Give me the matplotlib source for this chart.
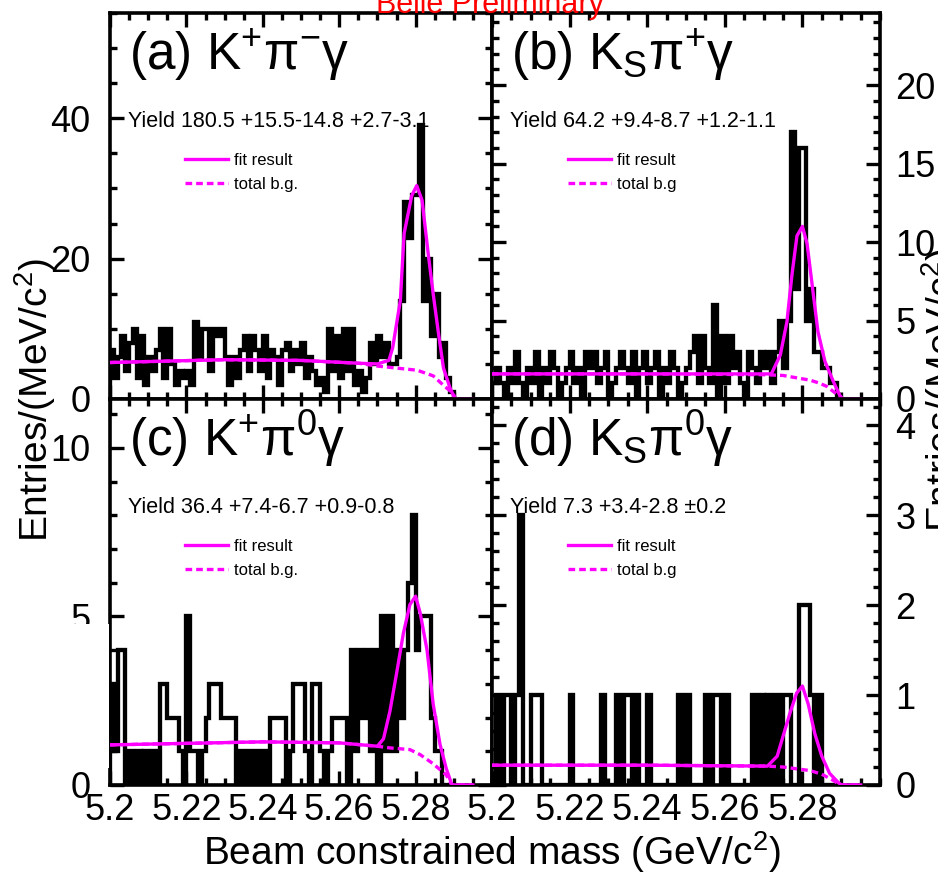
import numpy as np
import matplotlib
matplotlib.use("Agg")
import matplotlib.pyplot as plt
from matplotlib.ticker import MultipleLocator, FixedLocator
from matplotlib.patches import Rectangle

plt.rcParams['font.family'] = ['Liberation Sans', 'DejaVu Sans']
plt.rcParams['mathtext.fontset'] = 'custom'
plt.rcParams['mathtext.rm'] = 'Liberation Sans'
plt.rcParams['mathtext.it'] = 'Liberation Sans:italic'
plt.rcParams['mathtext.bf'] = 'Liberation Sans:bold'

# ---------------------------------------------------------------- data
# Mbc histograms, 1 MeV/c^2 bins from 5.200 to 5.290 GeV/c^2
mbc_edges = np.round(np.linspace(5.200, 5.290, 91), 4)

counts_kpi = [
    7, 3, 6, 9, 4, 8, 10, 3, 9, 2,
    6, 4, 7, 10, 3, 10, 5, 2, 4, 3,
    4, 2, 11, 6, 10, 10, 4, 10, 9, 10,
    6, 2, 6, 3, 7, 9, 4, 9, 7, 4,
    9, 3, 7, 6, 2, 7, 8, 4, 7, 5,
    8, 3, 6, 4, 2, 3, 1, 10, 4, 9,
    3, 10, 4, 10, 2, 4, 1, 3, 8, 5,
    9, 6, 8, 5, 5, 6, 14, 28, 23, 29,
    29, 39, 14, 20, 9, 15, 6, 8, 3, 1,
]
counts_kspi = [
    1, 2, 1, 0, 2, 1, 3, 1, 0, 2,
    1, 3, 0, 2, 1, 3, 2, 0, 1, 2,
    3, 1, 2, 0, 3, 2, 3, 1, 2, 3,
    0, 1, 2, 3, 2, 1, 3, 0, 2, 3,
    1, 2, 3, 0, 2, 1, 3, 2, 0, 1,
    2, 3, 4, 1, 4, 2, 1, 6, 0, 4,
    1, 4, 2, 3, 1, 0, 3, 2, 1, 3,
    2, 3, 1, 3, 5, 2, 5, 17, 7, 16,
    16, 5, 7, 3, 3, 2, 2, 1, 1, 0,
]
counts_kpi0 = [
    3, 1, 4, 4, 0, 1, 0, 1, 0, 1,
    0, 1, 0, 3, 3, 2, 2, 2, 1, 0,
    5, 1, 1, 0, 1, 2, 3, 3, 3, 2,
    2, 2, 2, 0, 1, 0, 1, 0, 1, 0,
    1, 0, 2, 2, 2, 2, 0, 1, 3, 3,
    3, 1, 0, 3, 3, 1, 0, 1, 2, 2,
    2, 2, 0, 4, 1, 4, 2, 4, 1, 4,
    0, 5, 1, 5, 1, 4, 2, 4, 6, 8,
    4, 5, 5, 5, 2, 1, 1, 0, 0, 0,
]
counts_kspi0 = [
    0, 1, 0, 1, 1, 0, 1, 3, 0, 0,
    1, 1, 1, 0, 0, 0, 0, 0, 0, 0,
    1, 0, 0, 0, 0, 0, 0, 0, 1, 0,
    0, 0, 1, 0, 1, 1, 0, 1, 0, 0,
    1, 0, 0, 0, 0, 0, 0, 0, 1, 0,
    1, 0, 0, 0, 0, 1, 0, 1, 1, 0,
    1, 0, 0, 0, 0, 0, 0, 1, 0, 1,
    0, 1, 0, 1, 0, 1, 1, 0, 0, 2,
    2, 2, 1, 0, 1, 0, 0, 0, 0, 0,
]

# fitted curves (signal + background) and total background
fit_kpi_x = [5.200, 5.230, 5.250, 5.265, 5.270, 5.273, 5.274, 5.276, 5.277,
             5.279, 5.2803, 5.2817, 5.2833, 5.2846, 5.286, 5.2873, 5.289,
             5.2903, 5.295]
fit_kpi_y = [5.2, 5.6, 5.5, 5.1, 5.0, 5.5, 7.3, 14.0, 23.6, 29.0, 30.4, 28.3,
             20.7, 15.0, 9.3, 4.4, 1.6, 0.0, 0.0]
bkg_kpi_x = [5.200, 5.230, 5.250, 5.265, 5.2699, 5.2751, 5.2804, 5.2846,
             5.2872, 5.2898, 5.2905, 5.295]
bkg_kpi_y = [5.2, 5.6, 5.5, 5.1, 4.7, 4.4, 4.1, 3.3, 2.0, 0.8, 0.0, 0.0]

fit_kspi_x = [5.200, 5.240, 5.272, 5.2743, 5.276, 5.2773, 5.2786, 5.280,
              5.2812, 5.2825, 5.284, 5.2858, 5.288, 5.2897, 5.2905, 5.295]
fit_kspi_y = [1.6, 1.6, 1.6, 2.8, 4.9, 7.9, 10.4, 11.0, 9.9, 7.3, 4.3, 2.4,
              1.1, 0.2, 0.0, 0.0]
bkg_kspi_x = [5.200, 5.240, 5.270, 5.275, 5.282, 5.2845, 5.2863, 5.2889,
              5.2902, 5.295]
bkg_kspi_y = [1.6, 1.6, 1.55, 1.5, 1.2, 1.0, 0.8, 0.3, 0.0, 0.0]

fit_kpi0_x = [5.200, 5.240, 5.260, 5.270, 5.2716, 5.2733, 5.275, 5.2768,
              5.2785, 5.280, 5.2812, 5.283, 5.2846, 5.2864, 5.288, 5.2895,
              5.295]
fit_kpi0_y = [1.19, 1.28, 1.25, 1.15, 1.37, 2.2, 3.3, 4.5, 5.35, 5.6, 5.1,
              4.0, 2.4, 1.2, 0.5, 0.0, 0.0]
bkg_kpi0_x = [5.200, 5.240, 5.260, 5.270, 5.2733, 5.2785, 5.2812, 5.2846,
              5.288, 5.2895, 5.295]
bkg_kpi0_y = [1.19, 1.28, 1.25, 1.15, 1.1, 1.05, 0.9, 0.63, 0.3, 0.0, 0.0]

fit_kspi0_x = [5.200, 5.240, 5.271, 5.2735, 5.275, 5.2768, 5.2785, 5.280,
               5.2815, 5.2832, 5.285, 5.287, 5.2892, 5.290, 5.295]
fit_kspi0_y = [0.22, 0.22, 0.21, 0.32, 0.54, 0.8, 1.02, 1.1, 0.9, 0.57, 0.32,
               0.13, 0.03, 0.0, 0.0]
bkg_kspi0_x = [5.200, 5.240, 5.271, 5.275, 5.282, 5.285, 5.288, 5.2897, 5.295]
bkg_kspi0_y = [0.22, 0.22, 0.21, 0.2, 0.16, 0.12, 0.05, 0.0, 0.0]

mode_labels = [r"(a) K$^{+}$π$^{-}$γ", r"(b) K$_{\mathrm{S}}$π$^{+}$γ",
               r"(c) K$^{+}$π$^{0}$γ", r"(d) K$_{\mathrm{S}}$π$^{0}$γ"]
yield_labels = ["Yield 180.5 +15.5-14.8 +2.7-3.1",
                "Yield 64.2 +9.4-8.7 +1.2-1.1",
                "Yield 36.4 +7.4-6.7 +0.9-0.8",
                "Yield 7.3 +3.4-2.8 ±0.2"]
bkg_legend_labels = ["total b.g.", "total b.g", "total b.g.", "total b.g"]

x_tick_values = [5.20, 5.22, 5.24, 5.26, 5.28]
x_tick_labels = ["5.2", "5.22", "5.24", "5.26", "5.28"]

y_limits = [55.0, 24.6, 11.45, 4.29]
y_major = [20, 5, 5, 1]
y_minor = [5, 1, 1, 0.2]

# ---------------------------------------------------------------- figure
W, H = 938, 876
fig = plt.figure(figsize=(W / 100, H / 100), dpi=100)
fig.patch.set_facecolor('white')


def px_rect(x0, y0, x1, y1):
    return [x0 / W, 1 - y1 / H, (x1 - x0) / W, (y1 - y0) / H]


rects = [px_rect(110, 13, 492, 399), px_rect(492, 13, 880, 399),
         px_rect(110, 399, 492, 785), px_rect(492, 399, 880, 785)]

panels = [
    (counts_kpi, fit_kpi_x, fit_kpi_y, bkg_kpi_x, bkg_kpi_y),
    (counts_kspi, fit_kspi_x, fit_kspi_y, bkg_kspi_x, bkg_kspi_y),
    (counts_kpi0, fit_kpi0_x, fit_kpi0_y, bkg_kpi0_x, bkg_kpi0_y),
    (counts_kspi0, fit_kspi0_x, fit_kspi0_y, bkg_kspi0_x, bkg_kspi0_y),
]

MAG = '#ff00ff'
for i, (counts, fx, fy, bx, by) in enumerate(panels):
    ax = fig.add_axes(rects[i])
    ax.stairs(counts, mbc_edges, baseline=0, color='black', lw=3.1, zorder=2)
    bkg_line, = ax.plot(bx, by, color=MAG, lw=2.4, dashes=(2.0, 1.2),
                        zorder=3, label=bkg_legend_labels[i])
    fit_line, = ax.plot(fx, fy, color=MAG, lw=2.4, zorder=4, label='fit result')

    ax.set_xlim(5.200, 5.300)
    ax.set_ylim(0, y_limits[i])
    ax.xaxis.set_major_locator(FixedLocator(x_tick_values))
    ax.xaxis.set_minor_locator(MultipleLocator(0.005))
    ax.yaxis.set_major_locator(MultipleLocator(y_major[i]))
    ax.yaxis.set_minor_locator(MultipleLocator(y_minor[i]))
    ax.tick_params(which='both', direction='in', top=True, right=True,
                   width=2.4, labelsize=26)
    ax.tick_params(which='major', length=10)
    ax.tick_params(which='minor', length=5)
    ax.tick_params(axis='x', pad=6)
    for sp in ax.spines.values():
        sp.set_linewidth(2.6)

    if i in (0, 1):
        ax.tick_params(axis='x', labelbottom=False)
    else:
        ax.set_xticks(x_tick_values)
        ax.set_xticklabels(x_tick_labels)
    if i in (1, 3):
        ax.tick_params(axis='y', labelleft=False, labelright=True, pad=11)
    else:
        ax.tick_params(axis='y', pad=14)

    ax.text(0.05, 0.853, mode_labels[i], transform=ax.transAxes,
            fontsize=37, ha='left', va='baseline')
    ax.text(0.047, 0.705, yield_labels[i], transform=ax.transAxes,
            fontsize=15.5, ha='left', va='baseline')
    ax.legend(handles=[fit_line, bkg_line], loc='center left',
              bbox_to_anchor=(0.196, 0.587), frameon=False, fontsize=12,
              handlelength=2.6, handletextpad=0.35, labelspacing=0.5,
              borderpad=0, borderaxespad=0)

# scanned sheet: blank strip over the lower left scale
fig.patches.append(Rectangle((0, 1 - 768 / H), 108.5 / W, (768 - 624) / H,
                             transform=fig.transFigure, facecolor='white',
                             edgecolor='none', zorder=5))

fig.text(490 / W, 1 - 13 / H, "Belle Preliminary", color='red', fontsize=22,
         ha='center', va='baseline')
fig.text(492 / W, 1 - 865 / H, r"Beam constrained mass (GeV/c$^{2}$)",
         fontsize=28, ha='center', va='baseline')
fig.text(35 / W, 1 - 400 / H, r"Entries/(MeV/c$^{2}$)", fontsize=28,
         rotation=90, ha='center', va='center')
fig.text(942 / W, 1 - 390 / H, r"Entries/(MeV/c$^{2}$)", fontsize=28,
         rotation=90, ha='center', va='center')

fig.savefig('out.png', dpi=100, facecolor='white')
